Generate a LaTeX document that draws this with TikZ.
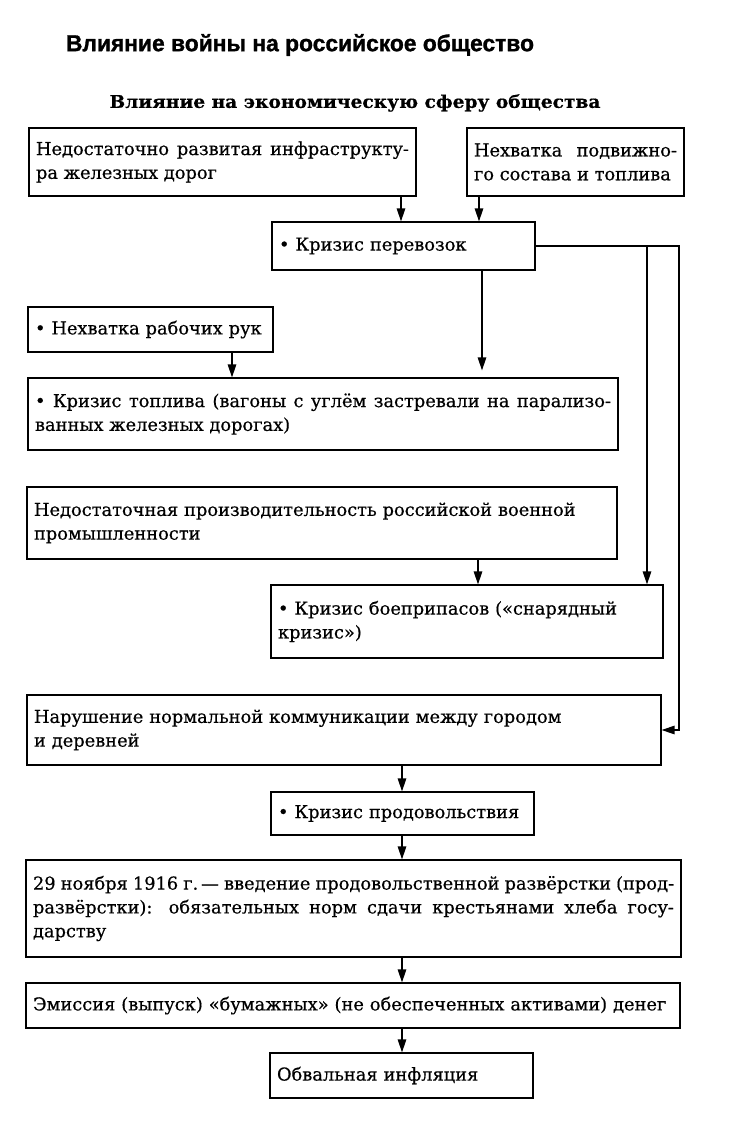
\documentclass[tikz,border=0pt]{standalone}
\usepackage{fontspec}
\usepackage{graphicx}
\setmainfont[FakeBold=0.5]{DejaVu Serif}
\newfontfamily\titlefont[BoldFeatures={FakeBold=1.2}]{Liberation Sans}
\usetikzlibrary{arrows.meta}
\hyphenpenalty=10000
\begin{document}
\begin{tikzpicture}[x=1pt,y=-1pt,
  box/.style={draw, line width=1.2pt, inner xsep=7pt, inner ysep=0pt,
    font=\fontsize{17.8}{23.8}\selectfont},
  arr/.style={line width=1.3pt, -{Triangle[length=13pt,width=8.5pt]}},
  ln/.style={line width=1.3pt}]
\useasboundingbox[fill=white] (0,0) rectangle (732,1125);

\node (title) at (300,45) {\resizebox{468pt}{\height}{\titlefont\bfseries\fontsize{23}{26}\selectfont Влияние войны на российское общество}};
\node (sub) at (355,103) {\resizebox{491pt}{\height}{\bfseries\fontsize{17.5}{20}\selectfont Влияние на экономическую сферу общества}};

\node[box, minimum width=387pt, text width=373pt, minimum height=68pt, align=justify] (A) at (222.5,162)
  {Недостаточно развитая инфраструкту-\linebreak ра железных дорог};
\node[box, minimum width=217pt, text width=203pt, minimum height=68pt, align=justify] (B) at (575.5,162)
  {Нехватка подвижно-\linebreak го состава и топлива};
\node[box, minimum width=263pt, text width=249pt, minimum height=48pt, align=left] (C) at (403.5,246)
  {• Кризис перевозок};
\node[box, minimum width=245pt, text width=231pt, minimum height=45pt, align=left] (D) at (150.5,329.5)
  {• Нехватка рабочих рук};
\node[box, minimum width=590pt, text width=576pt, minimum height=72pt, align=justify] (E) at (323,414)
  {• Кризис топлива (вагоны с углём застревали на парализо-\linebreak ванных железных дорогах)};
\node[box, minimum width=590pt, text width=576pt, minimum height=72pt, align=left] (F) at (322,523)
  {Недостаточная производительность российской военной\\промышленности};
\node[box, minimum width=392pt, text width=378pt, minimum height=73pt, align=left] (G) at (467,621.5)
  {• Кризис боеприпасов («снарядный\\кризис»)};
\node[box, minimum width=634pt, text width=620pt, minimum height=70pt, align=left] (H) at (344,730)
  {Нарушение нормальной коммуникации между городом\\и деревней};
\node[box, minimum width=263pt, text width=249pt, minimum height=43pt, align=left] (I) at (402.5,813.5)
  {• Кризис продовольствия};
\node[box, minimum width=655pt, text width=641pt, minimum height=97pt, align=justify] (J) at (353.5,908.5)
  {29 ноября 1916 г.\,— введение продовольственной развёрстки (прод-\linebreak развёрстки): обязательных норм сдачи крестьянами хлеба госу-\linebreak дарству};
\node[box, minimum width=654pt, text width=640pt, minimum height=45pt, align=left] (K) at (353,1005.5)
  {Эмиссия (выпуск) «бумажных» (не обеспеченных активами) денег};
\node[box, minimum width=263pt, text width=249pt, minimum height=45pt, align=left] (L) at (401.5,1075.5)
  {Обвальная инфляция};

\coordinate (xa) at (401,0);
\coordinate (xb) at (479,0);
\coordinate (xc) at (482,0);
\coordinate (xd) at (232,0);
\coordinate (xf) at (478,0);
\coordinate (xg) at (647,0);
\coordinate (xr) at (679,0);
\coordinate (xm) at (402,0);

\draw[arr] (A.south -| xa) -- (C.north -| xa);
\draw[arr] (B.south -| xb) -- (C.north -| xb);
\draw[arr, shorten >=7pt] (C.south -| xc) -- (E.north -| xc);
\draw[arr] (D.south -| xd) -- (E.north -| xd);
\draw[arr] (F.south -| xf) -- (G.north -| xf);
\draw[arr] (C.east) -- (C.east -| xr) -- (H.east -| xr) -- (H.east);
\draw[arr] (C.east -| xg) -- (G.north -| xg);
\draw[arr] (H.south -| xm) -- (I.north -| xm);
\draw[arr] (I.south -| xm) -- (J.north -| xm);
\draw[arr] (J.south -| xm) -- (K.north -| xm);
\draw[arr] (K.south -| xm) -- (L.north -| xm);
\end{tikzpicture}
\end{document}
